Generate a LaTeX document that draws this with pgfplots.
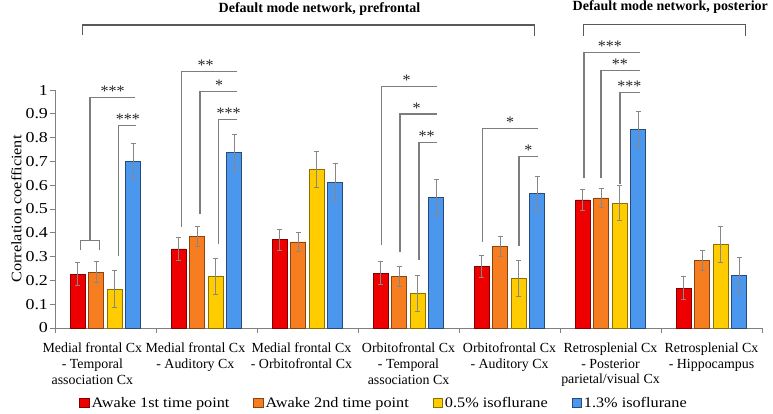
\documentclass[border=0pt]{standalone}
\usepackage{fontspec}
\setmainfont{Liberation Serif}
\newfontfamily\widefont[FakeStretch=1.12]{Liberation Serif}
\newfontfamily\tickfont[FakeStretch=1.18]{Liberation Serif}
\usepackage{pgfplots}
\usepackage{pgfplotstable}
\pgfplotsset{compat=1.18}

\definecolor{cred}{RGB}{238,0,0}
\definecolor{corange}{RGB}{247,126,32}
\definecolor{cyellow}{RGB}{255,204,0}
\definecolor{cblue}{RGB}{76,151,238}
\definecolor{axgray}{RGB}{128,128,128}
\definecolor{errgray}{RGB}{135,135,135}
\definecolor{brkgray}{RGB}{125,125,125}

\pgfplotstableread{
x y e
0 0.226 0.048
1 0.332 0.047
2 0.371 0.043
3 0.231 0.049
4 0.259 0.045
5 0.538 0.043
6 0.168 0.048
}\tred
\pgfplotstableread{
x y e
0 0.235 0.044
1 0.385 0.042
2 0.362 0.040
3 0.216 0.042
4 0.342 0.043
5 0.547 0.041
6 0.283 0.041
}\torange
\pgfplotstableread{
x y e
0 0.163 0.078
1 0.216 0.076
2 0.667 0.076
3 0.146 0.075
4 0.209 0.075
5 0.525 0.075
6 0.352 0.075
}\tyellow
\pgfplotstableread{
x y e
0 0.700 0.075
1 0.739 0.076
2 0.613 0.077
3 0.549 0.077
4 0.566 0.073
5 0.835 0.075
6 0.221 0.074
}\tblue

\pgfplotsset{
  sqlegend/.style={legend image code/.code={\draw[##1] (0pt,-4.5pt) rectangle (9.5pt,4.5pt);}},
  myerr/.style={error bars/.cd, y dir=both, y explicit,
    error bar style={color=errgray, line width=0.8pt},
    error mark options={rotate=90, mark size=2.6pt, color=errgray, line width=0.8pt}},
}
\tikzset{
  brk/.style={draw=brkgray, line width=1.1pt},
  topbrk/.style={draw=black!65, line width=1.1pt},
  startxt/.style={font=\fontsize{16}{16}\selectfont, anchor=base, inner sep=0pt, yshift=1pt, text=black!85},
}
\newcommand{\sig}[6]{%
  \draw[brk] (axis cs:#1,#2) -- (axis cs:#1,#3) -- (axis cs:#4,#3);
  \node[startxt] at (axis cs:#5,#3) {#6};
}

\begin{document}
\begin{tikzpicture}
\begin{axis}[
  at={(55pt,86pt)}, anchor=south west,
  width=707pt, height=238pt, scale only axis,
  xmin=-0.5, xmax=6.5, ymin=0, ymax=1,
  clip=false,
  axis x line=bottom, axis y line=left,
  axis line style={-, draw=axgray, line width=0.9pt},
  xtick={-0.13,0.89,1.94,3,4,5,6},
  xticklabels={
    {Medial frontal Cx\\- Temporal\\association Cx},
    {Medial frontal Cx\\- Auditory Cx},
    {Medial frontal Cx\\- Orbitofrontal Cx},
    {Orbitofrontal Cx\\- Temporal\\association Cx},
    {Orbitofrontal Cx\\- Auditory Cx},
    {Retrosplenial Cx\\- Posterior\\parietal/visual Cx},
    {Retrosplenial Cx\\- Hippocampus}},
  minor xtick={-0.5,0.5,1.5,2.5,3.5,4.5,5.5,6.5},
  ytick={0,0.1,0.2,0.3,0.4,0.5,0.6,0.7,0.8,0.9,1},
  minor ytick={0,0.1,0.2,0.3,0.4,0.5,0.6,0.7,0.8,0.9,1},
  yticklabels={0,0.1,0.2,0.3,0.4,0.5,0.6,0.7,0.8,0.9,1},
  tick align=outside,
  major tick length=0pt, minor tick length=5pt,
  tick style={draw=axgray, line width=0.9pt},
  xticklabel style={align=center, font=\fontsize{13.9}{15.6}\selectfont, anchor=north, yshift=-11.5pt},
  yticklabel style={font=\tickfont\fontsize{15.2}{15}\selectfont, anchor=east, xshift=-3.5pt},
  ylabel={Correlation coefficient},
  ylabel style={at={(axis description cs:-0.0545,0.5)}, anchor=center, font=\widefont\fontsize{14.5}{15}\selectfont},
  ybar, bar width=15pt,
  legend style={at={(0.4655,-0.315)}, anchor=center, draw=none, fill=none,
    legend columns=4, font=\widefont\fontsize{14.5}{15}\selectfont,
    nodes={inner xsep=2pt, inner ysep=1pt},
    /tikz/every even column/.append style={column sep=22pt}},
]
\addplot[fill=cred, draw=cred!55!black, line width=0.6pt, bar shift=-27.75pt, sqlegend, myerr] table[x=x, y=y, y error=e]{\tred};
\addlegendentry{Awake 1st time point}
\addplot[fill=corange, draw=corange!55!black, line width=0.6pt, bar shift=-9.25pt, sqlegend, myerr] table[x=x, y=y, y error=e]{\torange};
\addlegendentry{Awake 2nd time point}
\addplot[fill=cyellow, draw=cyellow!55!black, line width=0.6pt, bar shift=9.25pt, sqlegend, myerr] table[x=x, y=y, y error=e]{\tyellow};
\addlegendentry{0.5\% isoflurane}
\addplot[fill=cblue, draw=cblue!50!black, line width=0.6pt, bar shift=27.75pt, sqlegend, myerr] table[x=x, y=y, y error=e]{\tblue};
\addlegendentry{1.3\% isoflurane}

% category 1
\draw[brk] (axis cs:-0.246,0.328) -- (axis cs:-0.246,0.366) -- (axis cs:-0.061,0.366) -- (axis cs:-0.061,0.328);
\sig{-0.153}{0.366}{0.968}{0.292}{0.071}{***}
\sig{0.127}{0.303}{0.849}{0.302}{0.221}{***}
% category 2
\sig{0.754}{0.426}{1.077}{1.302}{0.992}{**}
\sig{0.936}{0.478}{0.993}{1.302}{1.124}{*}
\sig{1.117}{0.352}{0.877}{1.302}{1.220}{***}
% category 4
\sig{2.735}{0.349}{1.014}{3.279}{2.982}{*}
\sig{2.916}{0.320}{0.899}{3.279}{3.081}{*}
\sig{3.104}{0.286}{0.779}{3.279}{3.180}{**}
% category 5
\sig{3.735}{0.363}{0.839}{4.279}{4.005}{*}
\sig{4.094}{0.345}{0.720}{4.279}{4.186}{*}
% category 6
\sig{4.738}{0.629}{1.158}{5.295}{4.995}{***}
\sig{4.906}{0.629}{1.081}{5.295}{5.094}{**}
\sig{5.094}{0.604}{0.989}{5.295}{5.186}{***}

% network brackets
\draw[topbrk] (axis cs:-0.23,1.231) -- (axis cs:-0.23,1.273) -- (axis cs:4.246,1.273) -- (axis cs:4.246,1.227);
\node[font=\bfseries\fontsize{14}{14}\selectfont, inner sep=0pt] at (axis cs:2.119,1.340) {Default mode network, prefrontal};
\draw[topbrk] (axis cs:4.731,1.227) -- (axis cs:4.731,1.277) -- (axis cs:6.339,1.277) -- (axis cs:6.339,1.227);
\node[font=\bfseries\fontsize{14}{14}\selectfont, inner sep=0pt] at (axis cs:5.592,1.347) {Default mode network, posterior};
\end{axis}
\pgfresetboundingbox
\useasboundingbox (0,0) rectangle (773pt,414pt);
\end{tikzpicture}
\end{document}
